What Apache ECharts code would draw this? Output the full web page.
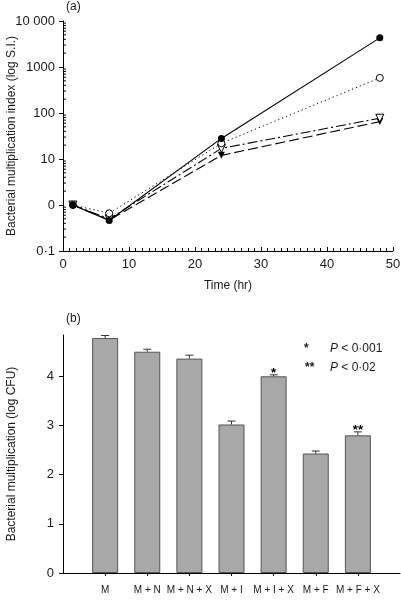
<!DOCTYPE html>
<html><head><meta charset="utf-8">
<script src="https://cdn.jsdelivr.net/npm/echarts@6/dist/echarts.min.js"></script>
<style>html,body{margin:0;padding:0;background:#fff}#c{width:401px;height:606px}</style>
</head><body><div id="c"></div>
<script>
// ---- Panel (a) data ----
const timeHours = [1.5, 7, 24, 48];
const siFilledCircle = [1, 0.46, 28, 4300];
const siOpenCircle = [1, 0.66, 22, 580];
const siOpenTriangle = [1, 0.5, 17, 77];
const siFilledTriangle = [1, 0.47, 12, 65];
const yTickLabelsA = ['0·1', '0', '10', '100', '1000', '10 000'];
const minorTickMultipliers = [2, 3, 4, 5, 6, 7, 8, 9];
const decadesA = [0.1, 1, 10, 100, 1000];

// ---- Panel (b) data ----
const categoriesB = ['M', 'M + N', 'M + N + X', 'M + I', 'M + I + X', 'M + F', 'M + F + X'];
const meansB = [4.78, 4.50, 4.36, 3.02, 4.00, 2.43, 2.80];
const errorsB = [0.05, 0.05, 0.07, 0.07, 0.03, 0.05, 0.07];
const significanceB = ['', '', '', '', '*', '', '**'];

const FONT = 'Liberation Sans, Arial, Helvetica, sans-serif';
const INK = '#1a1a1a';

const chart = echarts.init(document.getElementById('c'), null, {renderer: 'canvas'});

const minorVals = [];
decadesA.forEach(d => minorTickMultipliers.forEach(m => minorVals.push([0, d * m])));

const axisCat = ['', ...categoriesB, ''];

function lineSeries(values, dash, width, z) {
  return {
    type: 'line', xAxisIndex: 0, yAxisIndex: 0, z: z,
    data: timeHours.map((t, i) => [t, values[i]]),
    showSymbol: false, symbol: 'none',
    lineStyle: {color: '#000', width: width, type: dash}
  };
}
function markerSeries(values, symbol, rotate, size, filled, z) {
  return {
    type: 'scatter', xAxisIndex: 0, yAxisIndex: 0, z: z,
    data: timeHours.map((t, i) => [t, values[i]]),
    symbol: symbol, symbolRotate: rotate, symbolSize: size,
    itemStyle: filled ? {color: '#000', borderWidth: 0, opacity: 1}
                      : {color: '#fff', borderColor: '#000', borderWidth: 1, opacity: 1}
  };
}

const option = {
  animation: false,
  backgroundColor: '#fff',
  textStyle: {fontFamily: FONT},
  grid: [
    {left: 63, right: 8, top: 21, bottom: 355, containLabel: false, outerBoundsMode: 'none'},
    {left: 63, right: 1, top: 335, bottom: 33, containLabel: false, outerBoundsMode: 'none'}
  ],
  xAxis: [
    {
      type: 'value', gridIndex: 0, min: 0, max: 50, interval: 10,
      name: 'Time (hr)', nameLocation: 'middle', nameGap: 29, nameMoveOverlap: false,
      nameTextStyle: {fontSize: 12, color: INK, fontFamily: FONT},
      axisLine: {lineStyle: {color: '#000', width: 1}},
      axisTick: {show: true, inside: true, length: 4, lineStyle: {color: '#000'}},
      minorTick: {show: true, splitNumber: 10, length: 3, lineStyle: {color: '#000'}},
      splitLine: {show: false},
      axisLabel: {fontSize: 13, color: INK, margin: 7, fontFamily: FONT}
    },
    {
      type: 'category', gridIndex: 1, data: axisCat, boundaryGap: false,
      axisLine: {lineStyle: {color: '#000', width: 1}},
      axisTick: {show: true, length: 3, interval: (i) => i > 0 && i < axisCat.length - 1, lineStyle: {color: '#000'}},
      axisLabel: {fontSize: 10, color: INK, margin: 12, interval: 0, hideOverlap: false, fontFamily: FONT},
      splitLine: {show: false}
    }
  ],
  yAxis: [
    {
      type: 'log', gridIndex: 0, min: 0.1, max: 10000, logBase: 10, splitNumber: 5,
      name: 'Bacterial multiplication index (log S.I.)', nameLocation: 'middle', nameGap: 45, nameMoveOverlap: false,
      nameTextStyle: {fontSize: 12, color: INK, fontFamily: FONT},
      axisLine: {show: true, lineStyle: {color: '#000', width: 1}},
      axisTick: {show: true, length: 4, lineStyle: {color: '#000'}},
      splitLine: {show: false},
      axisLabel: {
        fontSize: 13, color: INK, margin: 8, fontFamily: FONT,
        formatter: v => yTickLabelsA[Math.round(Math.log10(v)) + 1]
      }
    },
    {
      type: 'value', gridIndex: 1, min: 0, max: 4.84, interval: 1,
      name: 'Bacterial multiplication (log CFU)', nameLocation: 'middle', nameGap: 45, nameMoveOverlap: false,
      nameTextStyle: {fontSize: 12, color: INK, fontFamily: FONT},
      axisLine: {show: true, lineStyle: {color: '#000', width: 1}},
      axisTick: {show: true, length: 4, lineStyle: {color: '#000'}},
      splitLine: {show: false},
      axisLabel: {fontSize: 13, color: INK, margin: 9, fontFamily: FONT, showMaxLabel: false}
    }
  ],
  series: [
    {
      type: 'custom', xAxisIndex: 0, yAxisIndex: 0, data: minorVals, silent: true, clip: false,
      renderItem: (params, api) => {
        const p = api.coord([api.value(0), api.value(1)]);
        return {type: 'line', shape: {x1: p[0], y1: p[1], x2: p[0] + 3, y2: p[1]}, style: {stroke: '#000', lineWidth: 1}};
      }
    },
    lineSeries(siFilledTriangle, [10, 4], 1.1, 3),
    lineSeries(siOpenTriangle, [10, 3, 2, 3], 1.1, 3),
    lineSeries(siOpenCircle, [1.2, 3], 1, 3),
    lineSeries(siFilledCircle, 'solid', 1.1, 3),
    markerSeries(siFilledTriangle, 'triangle', 180, 7, true, 5),
    markerSeries(siOpenTriangle, 'triangle', 180, 8, false, 6),
    markerSeries(siOpenCircle, 'circle', 0, 7, false, 7),
    markerSeries(siFilledCircle, 'circle', 0, 7, true, 8),
    {
      type: 'bar', xAxisIndex: 1, yAxisIndex: 1, barWidth: 26,
      data: ['-', ...meansB, '-'],
      itemStyle: {color: '#a8a8a8', borderColor: '#555', borderWidth: 1}
    },
    {
      type: 'custom', xAxisIndex: 1, yAxisIndex: 1, z: 10, clip: false,
      data: meansB.map((m, i) => [i + 1, m, errorsB[i]]),
      renderItem: (params, api) => {
        const x = api.value(0), m = api.value(1), e = api.value(2);
        const p0 = api.coord([x, m]);
        const p1 = api.coord([x, m + e]);
        const hw = 4;
        const children = [
          {type: 'line', shape: {x1: p0[0], y1: p0[1], x2: p1[0], y2: p1[1]}, style: {stroke: '#333', lineWidth: 1}},
          {type: 'line', shape: {x1: p1[0] - hw, y1: p1[1], x2: p1[0] + hw, y2: p1[1]}, style: {stroke: '#333', lineWidth: 1}}
        ];
        const s = significanceB[params.dataIndex];
        if (s) {
          children.push({type: 'text', style: {text: s, x: p1[0], y: p1[1] - 8, align: 'center', verticalAlign: 'top', font: 'bold 13px ' + FONT, fill: '#000'}});
        }
        return {type: 'group', children};
      }
    }
  ],
  graphic: [
    {type: 'text', left: 66, top: 1, style: {text: '(a)', font: '12px ' + FONT, fill: INK}},
    {type: 'text', left: 66, top: 313, style: {text: '(b)', font: '12px ' + FONT, fill: INK}},
    {type: 'text', left: 304, top: 343, style: {text: '*', font: 'bold 12px ' + FONT, fill: INK}},
    {type: 'text', left: 330, top: 343, style: {text: '{i|P} < 0·001', font: '12px ' + FONT, fill: INK, rich: {i: {fontStyle: 'italic', fontSize: 12, fontFamily: FONT}}}},
    {type: 'text', left: 305, top: 362, style: {text: '**', font: 'bold 12px ' + FONT, fill: INK}},
    {type: 'text', left: 330, top: 362, style: {text: '{i|P} < 0·02', font: '12px ' + FONT, fill: INK, rich: {i: {fontStyle: 'italic', fontSize: 12, fontFamily: FONT}}}}
  ]
};
chart.setOption(option);
</script>
</body></html>
